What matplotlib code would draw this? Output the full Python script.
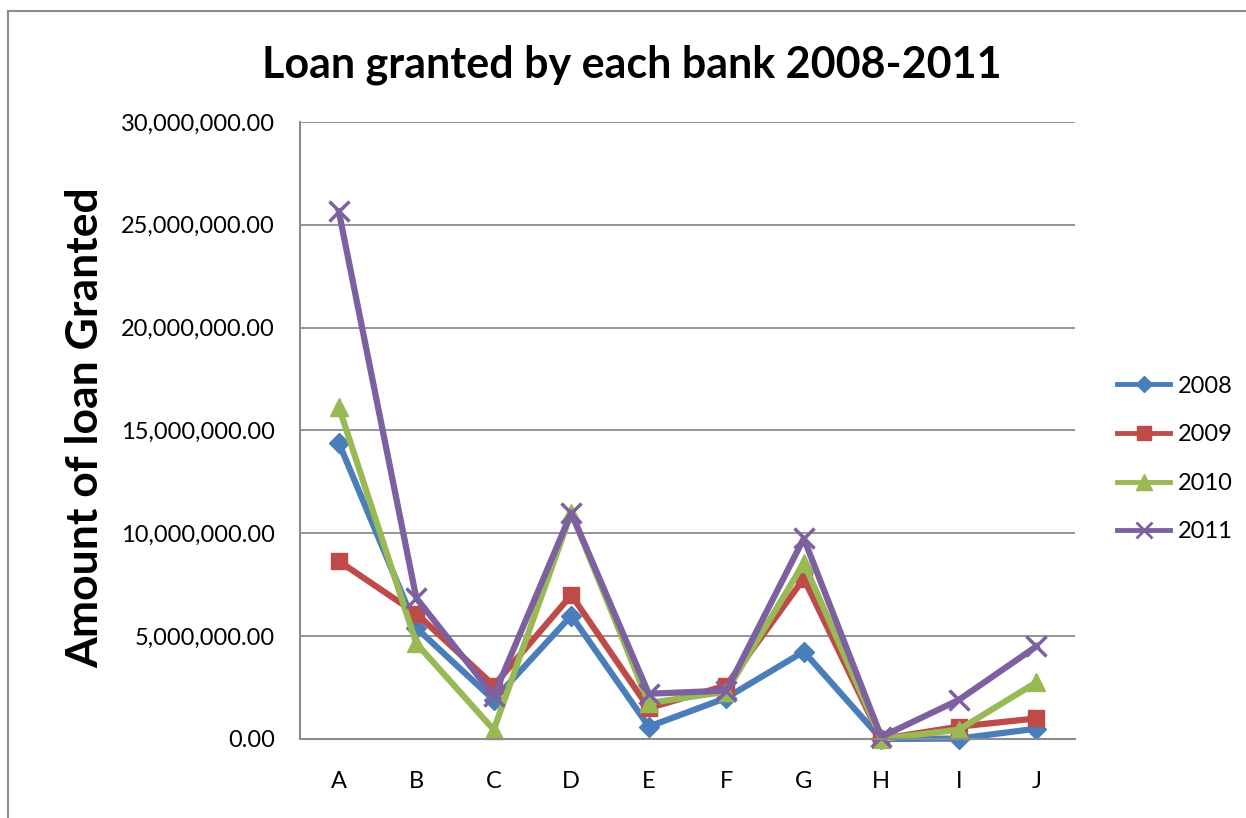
import matplotlib
matplotlib.use("Agg")
import matplotlib.pyplot as plt
from matplotlib.ticker import FuncFormatter
from matplotlib.lines import Line2D

plt.rcParams['font.family'] = ['Lato', 'DejaVu Sans']

# datos
banks = ["A", "B", "C", "D", "E", "F", "G", "H", "I", "J"]
years = ["2008", "2009", "2010", "2011"]
loans_2008 = [14400000, 5400000, 1900000, 6000000, 600000, 2000000, 4250000, 0, 20000, 500000]
loans_2009 = [8650000, 6100000, 2600000, 7000000, 1500000, 2600000, 7800000, 0, 600000, 1000000]
loans_2010 = [16150000, 4650000, 450000, 11000000, 1750000, 2300000, 8550000, 0, 450000, 2750000]
loans_2011 = [25650000, 6850000, 2100000, 11000000, 2200000, 2350000, 9750000, 100000, 1900000, 4500000]

series = [loans_2008, loans_2009, loans_2010, loans_2011]
colores = ["#4A7EBB", "#BE4B48", "#98B954", "#7D60A0"]
marcadores = ["D", "s", "^", "x"]
tamanos = [10, 12, 13, 14]

fig = plt.figure(figsize=(12.46, 8.18), dpi=100)
ax = fig.add_axes([0.2408, 0.0966, 0.6220, 0.7543])

x = list(range(len(banks)))
for vals, c, m, s in zip(series, colores, marcadores, tamanos):
    ax.plot(x, vals, color=c, linewidth=4.5, marker=m, markersize=s,
            markeredgewidth=2.5 if m == "x" else 1, markeredgecolor=c,
            markerfacecolor=c, solid_joinstyle="round", clip_on=False)

ax.set_xlim(-0.5, len(banks) - 0.5)
ax.set_ylim(0, 30000000)
ax.set_yticks(range(0, 30000001, 5000000))
ax.yaxis.set_major_formatter(FuncFormatter(lambda v, p: f"{v:,.2f}"))
ax.set_xticks(x)
ax.set_xticklabels(banks)
ax.tick_params(axis="both", length=0, labelsize=17, colors="black")
ax.tick_params(axis="x", pad=23)
ax.tick_params(axis="y", pad=18)

ax.grid(axis="y", color="#8C8C8C", linewidth=1.3)
ax.set_axisbelow(True)
for lado in ["top", "right"]:
    ax.spines[lado].set_visible(False)
for lado in ["left", "bottom"]:
    ax.spines[lado].set_color("#8C8C8C")
    ax.spines[lado].set_linewidth(1.5)

fig.text(85 / 1246, 0.4768, "Amount of loan Granted", fontsize=32, fontweight="bold",
         rotation=90, ha="center", va="center")
fig.text(0.507, 0.921, "Loan granted by each bank 2008-2011", fontsize=31,
         fontweight="bold", ha="center", va="center")

# leyenda
handles = [Line2D([0], [0], color=c, linewidth=3.5, marker=m, markersize=s * 0.85,
                  markeredgewidth=2 if m == "x" else 1, markeredgecolor=c, markerfacecolor=c)
           for c, m, s in zip(colores, marcadores, tamanos)]
fig.legend(handles, years, loc="center left", bbox_to_anchor=(0.8796, 0.4389),
           frameon=False, fontsize=17, handlelength=2.25, labelspacing=1.17,
           handletextpad=0.3)

# marco exterior
fig.add_artist(plt.Line2D([0.0064, 0.0064], [0.0, 0.9866], color="#8C8C8C", linewidth=1.5))
fig.add_artist(plt.Line2D([0.0064, 1.0], [0.9866, 0.9866], color="#8C8C8C", linewidth=1.5))

fig.savefig("out.png", dpi=100)
